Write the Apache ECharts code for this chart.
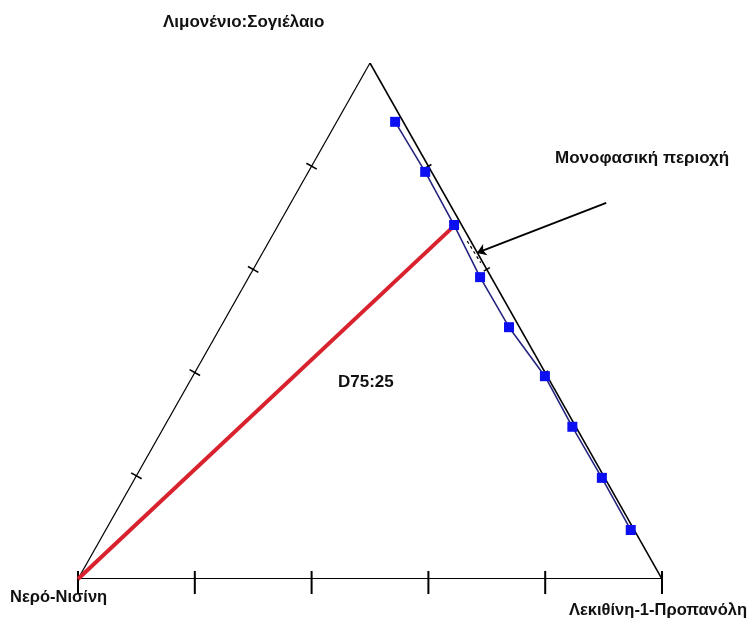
<!DOCTYPE html>
<html><head><meta charset="utf-8">
<script src="https://cdn.jsdelivr.net/npm/echarts@6/dist/echarts.min.js"></script>
<style>html,body{margin:0;padding:0;background:#fff}#c{width:750px;height:620px}</style>
</head><body><div id="c"></div>
<script>
// Ternary compositions in % : [water-nisine, lecithin-1-propanol, limonene:soybean oil]
const vertexNames = ['Νερό-Νισίνη', 'Λεκιθίνη-1-Προπανόλη', 'Λιμονένιο:Σογιέλαιο'];
const tickValues = [0, 20, 40, 60, 80, 100];
const waterPct = [1.4, 1.1, 1.3, 1.9, 1.8, 0.4, 0.6, 0.5, 0.6];
const lecithinPct = [10.0, 20.0, 30.1, 39.6, 49.4, 60.3, 69.9, 79.9, 89.9];
const limonenePct = [88.6, 78.9, 68.6, 58.5, 48.8, 39.3, 29.5, 19.6, 9.5];
const dilutionLine = [[100, 0, 0], [2, 30, 68]];
const dilutionLabel = 'D75:25';
const regionLabel = 'Μονοφασική περιοχή';
const arrowTernary = [[-26.9, 54.0, 72.9], [0.1, 36.7, 63.2]];
const dashTernary = [[0.6, 33.9, 65.5], [0.4, 38.3, 61.3]];

// ternary -> cartesian (x along base, y = limonene fraction of height)
function toXY(t) {
  const s = t[0] + t[1] + t[2];
  const b = t[1] / s * 100, c = t[2] / s * 100;
  return [b + c / 2, c];
}
const V = [toXY([100, 0, 0]), toXY([0, 100, 0]), toXY([0, 0, 100])];

const blueData = waterPct.map((w, i) => toXY([w, lecithinPct[i], limonenePct[i]]));

// tick items: [x, y, edge]
const tickData = [];
tickValues.forEach(v => {
  tickData.push(toXY([100 - v, v, 0]).concat([0]));          // base
  if (v > 0 && v < 100) {
    tickData.push(toXY([100 - v, 0, v]).concat([1]));        // left edge
    tickData.push(toXY([0, 100 - v, v]).concat([2]));        // right edge
  }
});

const FONT = '"Liberation Sans", Arial, sans-serif';
function label(text, x, y, size) {
  return {type: 'text', x: x, y: y, style: {text: text, font: 'bold ' + size + 'px ' + FONT, fill: '#111', verticalAlign: 'middle'}};
}

const chart = echarts.init(document.getElementById('c'), null, {renderer: 'canvas'});
chart.setOption({
  animation: false,
  backgroundColor: '#ffffff',
  grid: {left: 78, right: 88, top: 63, bottom: 41},
  xAxis: {type: 'value', min: 0, max: 100, show: false},
  yAxis: {type: 'value', min: 0, max: 100, show: false},
  graphic: [
    label(vertexNames[2], 163, 22, 17),
    label(regionLabel, 555, 158, 17),
    label(dilutionLabel, 338, 382, 17),
    label(vertexNames[0], 10, 597, 16.5),
    label(vertexNames[1], 569, 610, 16.5)
  ],
  series: [
    {
      type: 'lines', coordinateSystem: 'cartesian2d', silent: true, z: 2,
      data: [
        {coords: [V[0], V[1]], lineStyle: {width: 2.2}},
        {coords: [V[0], V[2]], lineStyle: {width: 1.2}},
        {coords: [V[1], V[2]], lineStyle: {width: 1.6}}
      ],
      lineStyle: {color: '#000', opacity: 1}
    },
    {
      type: 'custom', coordinateSystem: 'cartesian2d', silent: true, z: 3,
      data: tickData,
      renderItem: function (params, api) {
        const p = api.coord([api.value(0), api.value(1)]);
        const e = api.value(2);
        let x1, y1, x2, y2;
        if (e === 0) {
          x1 = p[0]; x2 = p[0]; y1 = p[1] - 8; y2 = p[1] + 15;
        } else {
          const a = api.coord(e === 1 ? V[0] : V[1]);
          const b = api.coord(V[2]);
          let dx = b[0] - a[0], dy = b[1] - a[1];
          const L = Math.hypot(dx, dy); dx /= L; dy /= L;
          const nx = -dy, ny = dx;
          const h = e === 1 ? 6 : 3.5;
          x1 = p[0] - nx * h; y1 = p[1] - ny * h; x2 = p[0] + nx * h; y2 = p[1] + ny * h;
        }
        return {type: 'line', shape: {x1, y1, x2, y2}, style: {stroke: '#000', lineWidth: e === 0 ? 2 : 1.6}};
      }
    },
    {
      type: 'line', z: 4, data: dilutionLine.map(toXY), symbol: 'none',
      lineStyle: {color: '#d8232f', width: 4}
    },
    {
      type: 'line', z: 5, data: blueData, symbol: 'rect', symbolSize: 10,
      itemStyle: {color: '#0c0ff0'},
      lineStyle: {color: '#262680', width: 1.6}
    },
    {
      type: 'lines', coordinateSystem: 'cartesian2d', silent: true, z: 6,
      symbol: ['none', 'arrow'], symbolSize: 9,
      data: [{coords: arrowTernary.map(toXY)}],
      lineStyle: {color: '#000', width: 1.8, opacity: 1}
    },
    {
      type: 'lines', coordinateSystem: 'cartesian2d', silent: true, z: 6,
      data: [{coords: dashTernary.map(toXY)}],
      lineStyle: {color: '#000', width: 1.2, type: [3, 3], opacity: 1}
    }
  ]
});
</script></body></html>
